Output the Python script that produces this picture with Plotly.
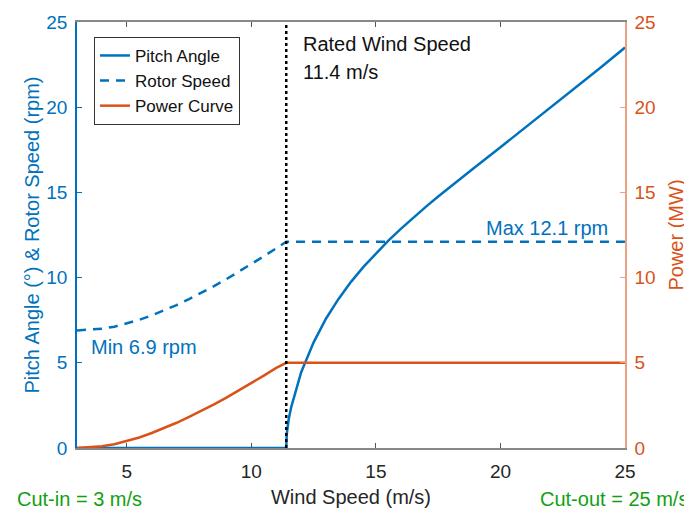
import plotly.graph_objects as go

# rotor speed (rpm) vs wind speed (m/s)
rotor_ws = [3, 3.5, 4, 4.5, 5, 5.5, 6, 6.5, 7, 7.5, 8, 8.5, 9, 9.5, 10, 10.5, 11, 11.4, 25]
rotor_rpm = [6.9, 6.93, 7.0, 7.12, 7.3, 7.52, 7.78, 8.07, 8.39, 8.74, 9.11, 9.5, 9.91, 10.35, 10.8, 11.25, 11.72, 12.1, 12.1]

# pitch angle (deg) vs wind speed
pitch_ws = [3, 11.4, 11.42, 11.45, 11.5, 11.6, 11.7, 11.8, 12, 12.5, 13, 13.5, 14, 14.5,
            15, 15.5, 16, 16.5, 17, 17.5, 18, 19, 20, 21, 22, 23, 24, 25]
pitch_deg = [0, 0, 0.8, 1.2, 1.7, 2.4, 2.95, 3.45, 4.45, 6.2, 7.6, 8.75, 9.75, 10.63,
             11.43, 12.17, 12.86, 13.52, 14.15, 14.76, 15.35, 16.5, 17.65, 18.8, 19.95, 21.1, 22.3, 23.5]

# power (MW) vs wind speed
power_ws = [3, 3.5, 4, 4.5, 5, 5.5, 6, 6.5, 7, 7.5, 8, 8.5, 9, 9.5, 10, 10.5, 11, 11.4, 25]
power_mw = [0, 0.03, 0.1, 0.22, 0.4, 0.62, 0.88, 1.17, 1.48, 1.82, 2.18, 2.56, 2.96, 3.38, 3.81, 4.25, 4.7, 5.0, 5.0]

rated_ws = 11.4
cut_in, cut_out = 3, 25

BLUE = '#0072BD'
ORANGE = '#D95319'
GREEN = '#12A012'
FONT = 'Liberation Sans, Arial, sans-serif'

fig = go.Figure()
fig.add_trace(go.Scatter(x=pitch_ws, y=pitch_deg, name='Pitch Angle', mode='lines',
                         line=dict(color=BLUE, width=2.5)))
fig.add_trace(go.Scatter(x=rotor_ws, y=rotor_rpm, name='Rotor Speed', mode='lines',
                         line=dict(color=BLUE, width=2.5, dash='9px,7px')))
fig.add_trace(go.Scatter(x=power_ws, y=power_mw, name='Power Curve', mode='lines', yaxis='y2',
                         line=dict(color=ORANGE, width=2.5)))
fig.add_trace(go.Scatter(x=[rated_ws, rated_ws], y=[0, 25], mode='lines', yaxis='y2', showlegend=False,
                         line=dict(color='black', width=2.5, dash='dot')))

txt = dict(family=FONT, size=20)
fig.add_annotation(x=rated_ws + 0.6, y=23.7, text='Rated Wind Speed', showarrow=False,
                   xanchor='left', font=dict(txt, color='#111111'))
fig.add_annotation(x=rated_ws + 0.6, y=22.05, text=f'{rated_ws} m/s', showarrow=False,
                   xanchor='left', font=dict(txt, color='#111111'))
fig.add_annotation(x=24.4, y=12.9, text=f'Max {max(rotor_rpm)} rpm', showarrow=False,
                   xanchor='right', font=dict(txt, color=BLUE))
fig.add_annotation(x=3.48, y=5.95, text=f'Min {min(rotor_rpm)} rpm', showarrow=False,
                   xanchor='left', font=dict(txt, color=BLUE))
fig.add_annotation(x=-0.113, y=-0.12, xref='paper', yref='paper', text=f'Cut-in = {cut_in} m/s',
                   showarrow=False, xanchor='left', yanchor='middle', font=dict(txt, color=GREEN))
fig.add_annotation(x=1.118, y=-0.12, xref='paper', yref='paper', text=f'Cut-out = {cut_out} m/s',
                   showarrow=False, xanchor='right', yanchor='middle', font=dict(txt, color=GREEN))

# page body has an 8px margin, so the figure is a little smaller than the window
fig.update_layout(
    width=684, height=503,
    margin=dict(l=69, r=67, t=14, b=63),
    plot_bgcolor='white', paper_bgcolor='white',
    font=dict(family=FONT, size=19, color='#262626'),
    xaxis=dict(range=[3, 25], tickvals=[5, 10, 15, 20, 25], ticks='inside', ticklen=5,
               tickcolor='#555555', showline=True, linecolor='#888888', linewidth=1.5, mirror='ticks',
               showgrid=False, zeroline=False, ticklabelstandoff=5, automargin=False,
               title=dict(text='Wind Speed (m/s)', font=dict(size=20), standoff=9)),
    yaxis=dict(range=[0, 25], dtick=5, ticks='inside', ticklen=5, tickcolor=BLUE,
               showline=True, linecolor=BLUE, linewidth=1.5, showgrid=False, zeroline=False,
               tickfont=dict(color=BLUE), ticklabelstandoff=4, automargin=False,
               title=dict(text='Pitch Angle (°) & Rotor Speed (rpm)', font=dict(size=20, color=BLUE), standoff=1)),
    yaxis2=dict(range=[0, 25], dtick=5, overlaying='y', side='right', ticks='inside', ticklen=5,
                tickcolor='#EBA184', showline=True, linecolor='#EBA184', linewidth=1.5,
                showgrid=False, zeroline=False, tickfont=dict(color=ORANGE), ticklabelstandoff=4,
                automargin=False,
                title=dict(text='Power (MW)', font=dict(size=20, color=ORANGE), standoff=14)),
    legend=dict(x=0.031, y=0.965, xanchor='left', yanchor='top', bgcolor='white',
                bordercolor='#333333', borderwidth=1, font=dict(size=17, color='#111111'),
                tracegroupgap=0),
    showlegend=True,
)

fig.write_html("out.html")
